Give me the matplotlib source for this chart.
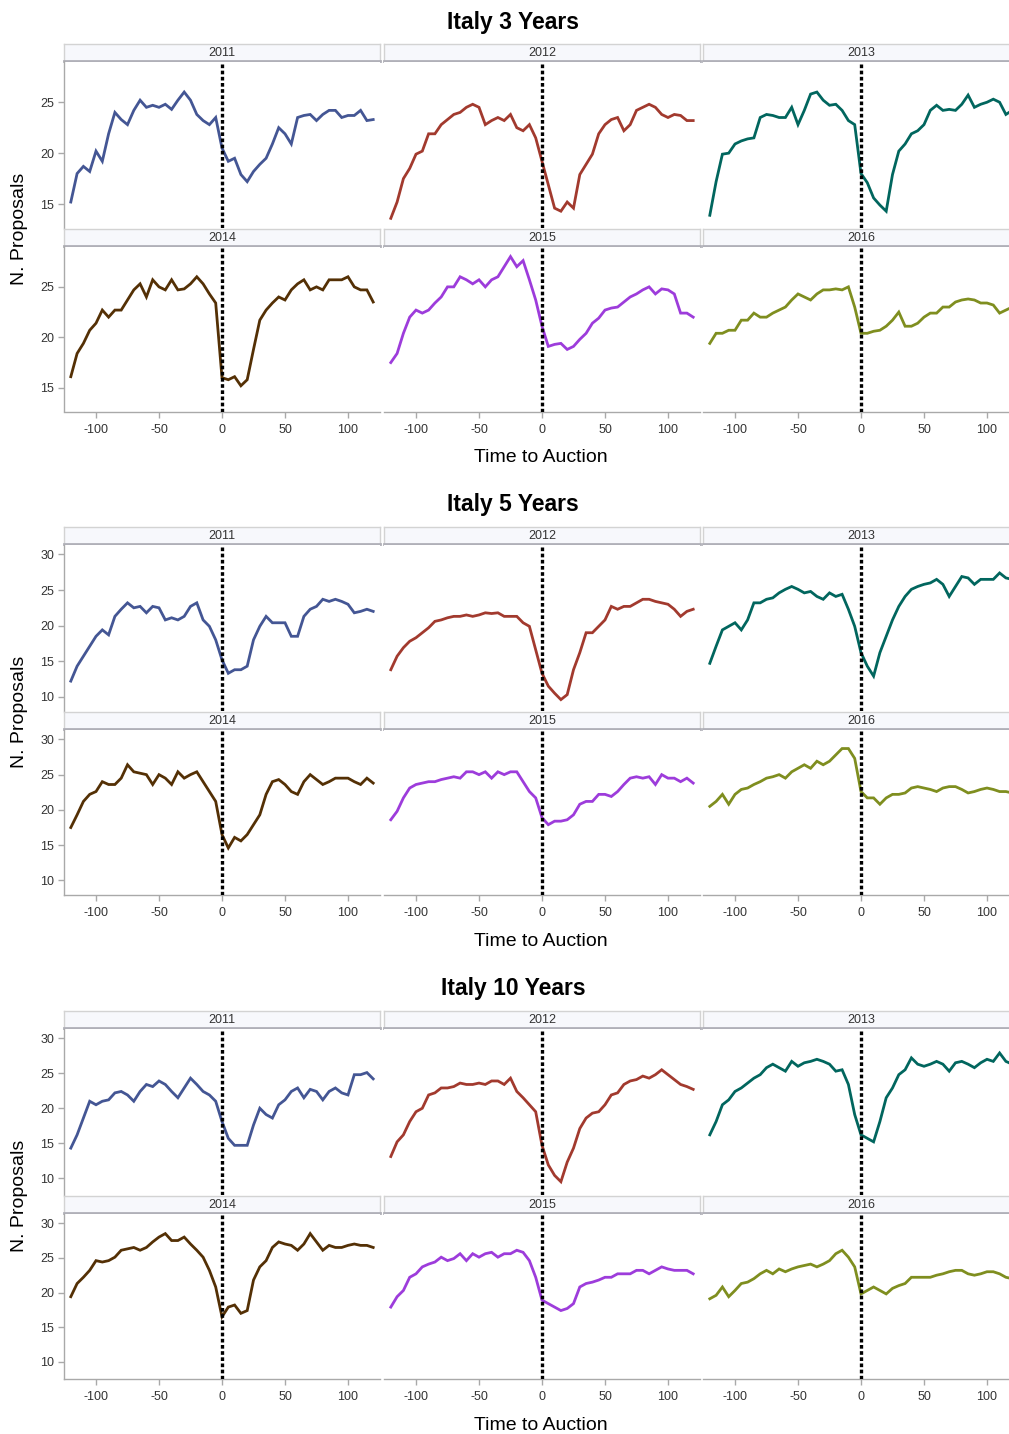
import numpy as np
import matplotlib
matplotlib.use("Agg")
import matplotlib.pyplot as plt

plt.rcParams['font.family'] = ['Liberation Sans', 'DejaVu Sans']
plt.rcParams['axes.unicode_minus'] = False

# ---------------- data ----------------
TIME = list(range(-120, 121, 5))
YEARS = ['2011', '2012', '2013', '2014', '2015', '2016']
TITLES = ['Italy 3 Years', 'Italy 5 Years', 'Italy 10 Years']
COLORS = ['#445694', '#A23A2E', '#01665E', '#543005', '#9D3CDB', '#7F8E1F']
X_TICKS = [-100, -50, 0, 50, 100]
Y_TICKS_3Y = [15, 20, 25]
Y_TICKS_5Y = [10, 15, 20, 25, 30]
Y_TICKS_10Y = [10, 15, 20, 25, 30]

it3_2011 = [15.2,18.0,18.7,18.2,20.2,19.2,21.9,24.0,23.3,22.8,24.2,25.2,24.5,24.7,24.5,24.8,24.3,25.2,26.0,25.2,23.8,23.2,22.8,23.5,
            20.5,
            19.2,19.5,17.9,17.2,18.2,18.9,19.5,20.9,22.5,21.9,20.9,23.5,23.7,23.8,23.2,23.8,24.2,24.2,23.5,23.7,23.7,24.2,23.2,23.3]
it3_2012 = [13.6,15.2,17.5,18.5,19.9,20.2,21.9,21.9,22.8,23.3,23.8,24.0,24.5,24.8,24.5,22.8,23.2,23.5,23.2,23.8,22.5,22.2,22.8,21.5,
            19.2,
            16.9,14.6,14.3,15.2,14.6,17.9,18.9,19.9,21.9,22.8,23.3,23.5,22.2,22.8,24.2,24.5,24.8,24.5,23.8,23.5,23.8,23.7,23.2,23.2]
it3_2013 = [13.9,17.2,19.9,20.0,20.9,21.2,21.4,21.5,23.5,23.8,23.7,23.5,23.5,24.5,22.8,24.2,25.8,26.0,25.2,24.7,24.8,24.2,23.2,22.8,
            18.0,
            17.1,15.6,14.9,14.3,17.9,20.2,20.9,21.9,22.2,22.8,24.2,24.7,24.2,24.3,24.2,24.8,25.7,24.5,24.8,25.0,25.3,25.0,23.8,24.2]
it3_2014 = [16.1,18.4,19.4,20.7,21.4,22.7,22.0,22.7,22.7,23.7,24.7,25.3,24.0,25.7,25.0,24.7,25.7,24.7,24.8,25.3,26.0,25.3,24.3,23.4,
            16.0,
            15.8,16.1,15.2,15.8,18.8,21.7,22.7,23.4,24.0,23.7,24.7,25.3,25.7,24.7,25.0,24.7,25.7,25.7,25.7,26.0,25.0,24.7,24.7,23.5]
it3_2015 = [17.5,18.4,20.4,22.0,22.7,22.4,22.7,23.4,24.0,25.0,25.0,26.0,25.7,25.3,25.7,25.0,25.7,26.0,27.0,28.0,27.0,27.6,25.7,23.7,
            21.1,
            19.1,19.3,19.4,18.8,19.1,19.8,20.4,21.4,21.9,22.7,22.9,23.0,23.5,24.0,24.3,24.7,25.0,24.3,24.8,24.7,24.3,22.4,22.4,22.0]
it3_2016 = [19.4,20.4,20.4,20.7,20.7,21.7,21.7,22.4,22.0,22.0,22.4,22.7,23.0,23.7,24.3,24.0,23.7,24.3,24.7,24.7,24.8,24.7,25.0,23.0,
            20.4,
            20.4,20.6,20.7,21.1,21.7,22.5,21.1,21.1,21.4,22.0,22.4,22.4,23.0,23.0,23.5,23.7,23.8,23.7,23.4,23.4,23.2,22.4,22.7,23.0]

it5_2011 = [12.2,14.3,15.7,17.1,18.5,19.4,18.7,21.3,22.3,23.2,22.5,22.7,21.8,22.7,22.5,20.8,21.1,20.8,21.3,22.7,23.2,20.8,19.9,18.0,
            15.2,
            13.3,13.8,13.8,14.3,18.0,19.9,21.3,20.4,20.4,20.4,18.5,18.5,21.3,22.3,22.7,23.7,23.4,23.7,23.4,23.0,21.8,22.0,22.3,22.0]
it5_2012 = [13.8,15.7,16.9,17.8,18.3,19.0,19.7,20.6,20.8,21.1,21.3,21.3,21.5,21.3,21.5,21.8,21.7,21.8,21.3,21.3,21.3,20.4,19.9,16.6,
            13.3,
            11.5,10.5,9.6,10.3,13.8,16.2,19.0,19.0,19.9,20.8,22.7,22.3,22.7,22.7,23.2,23.7,23.7,23.4,23.2,23.0,22.3,21.3,22.0,22.3]
it5_2013 = [14.7,17.1,19.4,19.9,20.4,19.4,20.8,23.2,23.2,23.7,23.9,24.6,25.1,25.5,25.1,24.6,24.8,24.1,23.7,24.6,24.1,24.4,22.3,19.9,
            16.2,
            14.3,12.9,16.2,18.5,20.8,22.7,24.1,25.1,25.5,25.8,26.0,26.5,25.8,24.1,25.5,26.9,26.7,25.8,26.5,26.5,26.5,27.4,26.7,26.5]
it5_2014 = [17.5,19.3,21.2,22.2,22.6,24.0,23.6,23.6,24.5,26.4,25.4,25.2,25.0,23.6,25.0,24.5,23.6,25.4,24.5,25.0,25.4,24.0,22.6,21.2,
            16.5,
            14.6,16.1,15.6,16.5,17.9,19.3,22.2,24.0,24.3,23.6,22.6,22.2,24.0,25.0,24.3,23.6,24.0,24.5,24.5,24.5,24.0,23.6,24.5,23.8]
it5_2015 = [18.6,19.8,21.7,23.1,23.6,23.8,24.0,24.0,24.3,24.5,24.7,24.5,25.4,25.4,25.0,25.4,24.5,25.4,25.0,25.4,25.4,24.0,22.6,21.7,
            18.9,
            17.9,18.4,18.4,18.6,19.3,20.8,21.2,21.2,22.2,22.2,21.9,22.6,23.6,24.5,24.7,24.5,24.7,23.6,25.0,24.5,24.5,24.0,24.5,23.8]
it5_2016 = [20.5,21.2,22.2,20.8,22.2,22.9,23.1,23.6,24.0,24.5,24.7,25.0,24.5,25.4,25.9,26.4,25.9,26.9,26.4,26.9,27.8,28.7,28.7,27.3,
            22.6,
            21.7,21.7,20.8,21.7,22.2,22.2,22.4,23.1,23.3,23.1,22.9,22.6,23.1,23.3,23.3,22.9,22.4,22.6,22.9,23.1,22.9,22.6,22.6,22.4]

it10_2011 = [14.3,16.2,18.6,21.0,20.5,21.0,21.2,22.2,22.4,21.9,21.0,22.4,23.4,23.1,23.9,23.4,22.4,21.5,22.9,24.3,23.4,22.4,21.9,21.0,
             18.1,
             15.7,14.7,14.7,14.7,17.6,20.0,19.1,18.6,20.5,21.2,22.4,22.9,21.5,22.7,22.4,21.2,22.4,22.9,22.2,21.9,24.8,24.8,25.1,24.2]
it10_2012 = [13.1,15.2,16.2,18.1,19.5,20.0,21.9,22.2,22.9,22.9,23.1,23.6,23.4,23.4,23.6,23.4,23.9,23.9,23.4,24.3,22.4,21.5,20.5,19.5,
             14.7,
             11.9,10.4,9.5,12.3,14.3,17.1,18.6,19.3,19.5,20.5,21.9,22.2,23.4,23.9,24.1,24.6,24.3,24.8,25.5,24.8,24.1,23.4,23.1,22.7]
it10_2013 = [16.2,18.1,20.5,21.2,22.4,22.9,23.6,24.3,24.8,25.8,26.3,25.8,25.3,26.7,26.0,26.5,26.7,27.0,26.7,26.3,25.3,25.5,23.4,19.1,
             16.2,
             15.7,15.2,18.1,21.5,22.9,24.8,25.5,27.2,26.3,26.0,26.3,26.7,26.3,25.3,26.5,26.7,26.3,25.8,26.5,27.0,26.7,27.9,26.7,26.3]
it10_2014 = [19.4,21.3,22.2,23.2,24.6,24.4,24.6,25.1,26.1,26.3,26.5,26.1,26.5,27.3,28.0,28.5,27.5,27.5,28.0,27.0,26.1,25.1,23.2,20.8,
             16.5,
             17.9,18.2,17.0,17.4,21.8,23.7,24.6,26.5,27.3,27.0,26.8,26.1,27.0,28.5,27.3,26.1,26.8,26.5,26.5,26.8,27.0,26.8,26.8,26.5]
it10_2015 = [17.9,19.4,20.3,22.2,22.7,23.7,24.1,24.4,25.1,24.6,24.9,25.6,24.6,25.6,25.1,25.6,25.8,25.1,25.6,25.6,26.1,25.8,24.6,22.2,
             18.9,
             18.4,17.9,17.4,17.7,18.4,20.8,21.3,21.5,21.8,22.2,22.2,22.7,22.7,22.7,23.2,23.2,22.7,23.2,23.7,23.4,23.2,23.2,23.2,22.7]
it10_2016 = [19.1,19.6,20.8,19.4,20.3,21.3,21.5,22.0,22.7,23.2,22.7,23.4,23.0,23.4,23.7,23.9,24.1,23.7,24.1,24.6,25.6,26.1,25.1,23.7,
             19.8,
             20.3,20.8,20.3,19.8,20.6,21.0,21.3,22.2,22.2,22.2,22.2,22.5,22.7,23.0,23.2,23.2,22.7,22.5,22.7,23.0,23.0,22.7,22.2,22.0]

SERIES = [
    [it3_2011, it3_2012, it3_2013, it3_2014, it3_2015, it3_2016],
    [it5_2011, it5_2012, it5_2013, it5_2014, it5_2015, it5_2016],
    [it10_2011, it10_2012, it10_2013, it10_2014, it10_2015, it10_2016],
]
Y_TICKS = [Y_TICKS_3Y, Y_TICKS_5Y, Y_TICKS_10Y]

# ---------------- layout ----------------
W, H = 1009, 1434
DPI = 100
fig = plt.figure(figsize=(W / DPI, H / DPI), dpi=DPI)
fig.patch.set_facecolor('white')


def rect(left, top, width, height):
    return [left / W, 1 - (top + height) / H, width / W, height / H]


GROUP_TOP = [44, 527, 1011]
YLIMS = [(12.65, 29.0), (8.0, 31.4), (7.6, 31.4)]
COL_LEFT = [64, 384, 703]
COL_W = 316
STRIP_H = 17.5
ROW_OFFS = [(0, 166.5), (185, 165)]  # (strip top offset, axes height)

SPINE_C = '#A9A9A9'
TXT_C = '#333333'

for g in range(3):
    base = GROUP_TOP[g]
    for r in range(2):
        s_top = base + ROW_OFFS[r][0]
        a_top = s_top + STRIP_H
        a_h = ROW_OFFS[r][1]
        for c in range(3):
            i = r * 3 + c
            # strip
            sax = fig.add_axes(rect(COL_LEFT[c], s_top, COL_W, STRIP_H - 0.5))
            sax.set_facecolor('#F7F8FC')
            sax.set_xticks([])
            sax.set_yticks([])
            for sp in ['top', 'left', 'right']:
                sax.spines[sp].set_color('#D3D3D3')
                sax.spines[sp].set_linewidth(1.0)
            sax.spines['bottom'].set_color('#B0B0B8')
            sax.spines['bottom'].set_linewidth(2.0)
            sax.text(0.5, 0.45, YEARS[i], ha='center', va='center',
                     fontsize=9, color=TXT_C, transform=sax.transAxes)

            # panel
            ax = fig.add_axes(rect(COL_LEFT[c], a_top, COL_W, a_h))
            ax.plot(TIME, SERIES[g][i], color=COLORS[i], lw=2.0,
                    solid_joinstyle='miter', zorder=2)
            ax.axvline(0, color='black', lw=2.4, ls=(0, (1.1, 0.75)), zorder=3)
            ax.set_xlim(-125.4, 125.4)
            ax.set_ylim(*YLIMS[g])
            ax.set_facecolor('white')
            for sp in ['top', 'right']:
                ax.spines[sp].set_visible(False)
            ax.spines['left'].set_visible(c == 0)
            ax.spines['bottom'].set_visible(r == 1)
            ax.spines['left'].set_color(SPINE_C)
            ax.spines['bottom'].set_color(SPINE_C)
            ax.spines['left'].set_linewidth(1.0)
            ax.spines['bottom'].set_linewidth(1.0)
            ax.tick_params(axis='both', colors=SPINE_C, labelcolor=TXT_C,
                           labelsize=9, length=4, width=1.0, pad=3)
            if c == 0:
                ax.set_yticks(Y_TICKS[g])
            else:
                ax.set_yticks([])
            if r == 1:
                ax.set_xticks(X_TICKS)
                ax.tick_params(axis='x', pad=5)
            else:
                ax.set_xticks([])

    # group texts
    fig.text(513 / W, 1 - (base - 22) / H, TITLES[g], ha='center', va='center',
             fontsize=16.5, fontweight='bold', color='black')
    fig.text(541 / W, 1 - (base + 414) / H, 'Time to Auction', ha='center',
             va='center', fontsize=14, color='black')
    fig.text(20 / W, 1 - (base + 185) / H, 'N. Proposals', ha='center',
             va='center', rotation=90, fontsize=14, color='black')

fig.savefig('out.png', dpi=DPI, facecolor='white')
